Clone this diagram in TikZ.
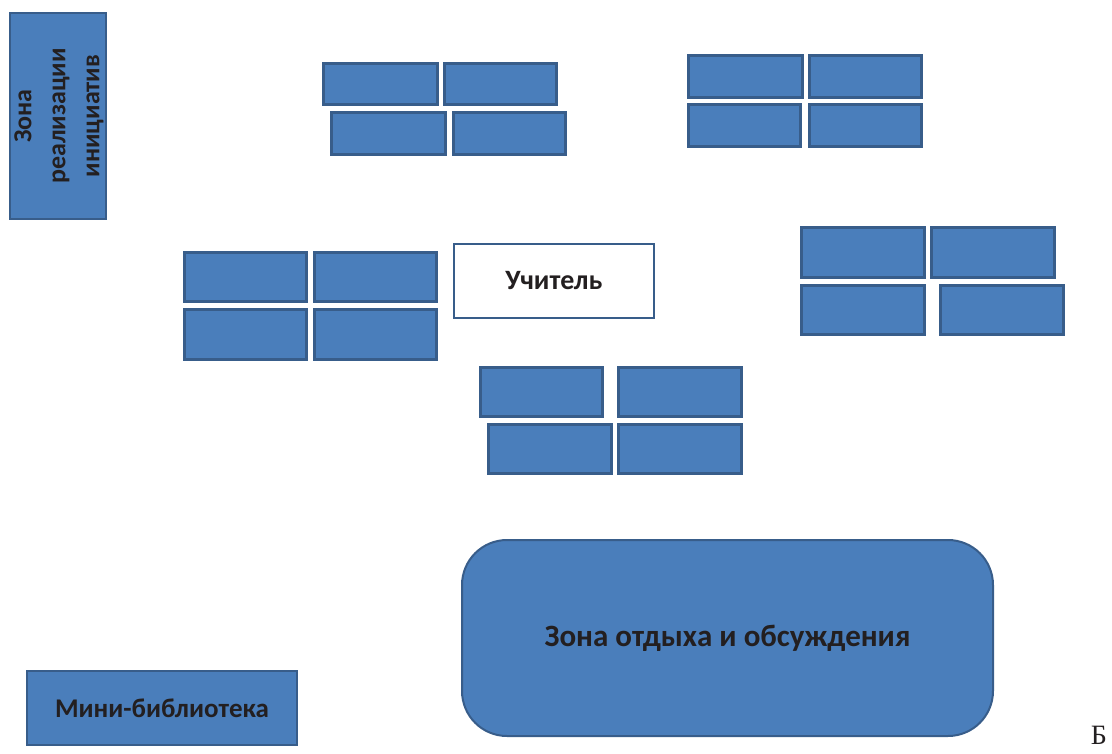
\documentclass[tikz,border=0pt]{standalone}
\usepackage{fontspec}
\newfontfamily\lab{Carlito}
\newfontfamily\serifcyr{Liberation Serif}
\definecolor{fillc}{HTML}{4A7EBB}
\definecolor{bordc}{HTML}{385D8A}
\definecolor{txtc}{HTML}{231F20}
\begin{document}
\begin{tikzpicture}[x=1pt,y=1pt,
  desk/.style={draw=bordc, line width=3pt, fill=fillc, inner sep=0pt, outer sep=0pt},
  zone/.style={draw=bordc, line width=2.5pt, fill=fillc, inner sep=0pt, outer sep=0pt,
     text=txtc, font=\lab\bfseries\fontsize{27}{32}\selectfont}]
\useasboundingbox (0,0) rectangle (1112,-753);
% top-left group
\node[desk, minimum width=114, minimum height=41] (d1) at (380,-83.5) {};
\node[desk, minimum width=112, minimum height=41] (d2) at (500,-83.5) {};
\node[desk, minimum width=114, minimum height=42] (d3) at (388,-133) {};
\node[desk, minimum width=112, minimum height=42] (d4) at (509,-133) {};
% top-right group
\node[desk, minimum width=114, minimum height=42] (d5) at (745,-76) {};
\node[desk, minimum width=112, minimum height=42] (d6) at (865,-76) {};
\node[desk, minimum width=112, minimum height=42] (d7) at (744,-125) {};
\node[desk, minimum width=112, minimum height=42] (d8) at (865,-125) {};
% left-middle group
\node[desk, minimum width=122, minimum height=49] (d9) at (245,-276.5) {};
\node[desk, minimum width=122, minimum height=49] (d10) at (375,-276.5) {};
\node[desk, minimum width=122, minimum height=50] (d11) at (245,-334) {};
\node[desk, minimum width=122, minimum height=50] (d12) at (375,-334) {};
% right group
\node[desk, minimum width=123, minimum height=50] (d13) at (862.5,-252) {};
\node[desk, minimum width=123, minimum height=50] (d14) at (992.5,-252) {};
\node[desk, minimum width=123, minimum height=49] (d15) at (862.5,-309.5) {};
\node[desk, minimum width=123, minimum height=49] (d16) at (1001.5,-309.5) {};
% bottom group
\node[desk, minimum width=122, minimum height=49] (d17) at (541,-391.5) {};
\node[desk, minimum width=123, minimum height=49] (d18) at (679.5,-391.5) {};
\node[desk, minimum width=123, minimum height=49] (d19) at (549.5,-448.5) {};
\node[desk, minimum width=123, minimum height=49] (d20) at (679.5,-448.5) {};
% teacher
\node[draw=bordc, line width=2.5pt, fill=white, minimum width=200, minimum height=74,
  inner sep=0pt, text=txtc, font=\lab\bfseries\fontsize{28}{32}\selectfont] (teacher) at (554,-281) {Учитель};
% zones
\node[zone, minimum width=96, minimum height=206] (initiatives) at (58,-116) {};
\node[text=txtc, font=\lab\bfseries\fontsize{26}{34}\selectfont, rotate=90, align=center, inner sep=0pt] (initlabel) at ([xshift=1pt]initiatives.center) {Зона\\реализации\\инициатив};
\node[zone, minimum width=270, minimum height=74] (library) at (162,-708) {Мини-библиотека};
\node[zone, line width=2pt, rounded corners=45pt, minimum width=531, minimum height=196,
  font=\lab\bfseries\fontsize{31}{36}\selectfont] (rest) at (727.5,-638) {Зона отдыха и обсуждения};
\node[font=\serifcyr\fontsize{28}{32}\selectfont, text=txtc, inner sep=0pt] (letterB) at (1099,-735) {Б};
\end{tikzpicture}
\end{document}
